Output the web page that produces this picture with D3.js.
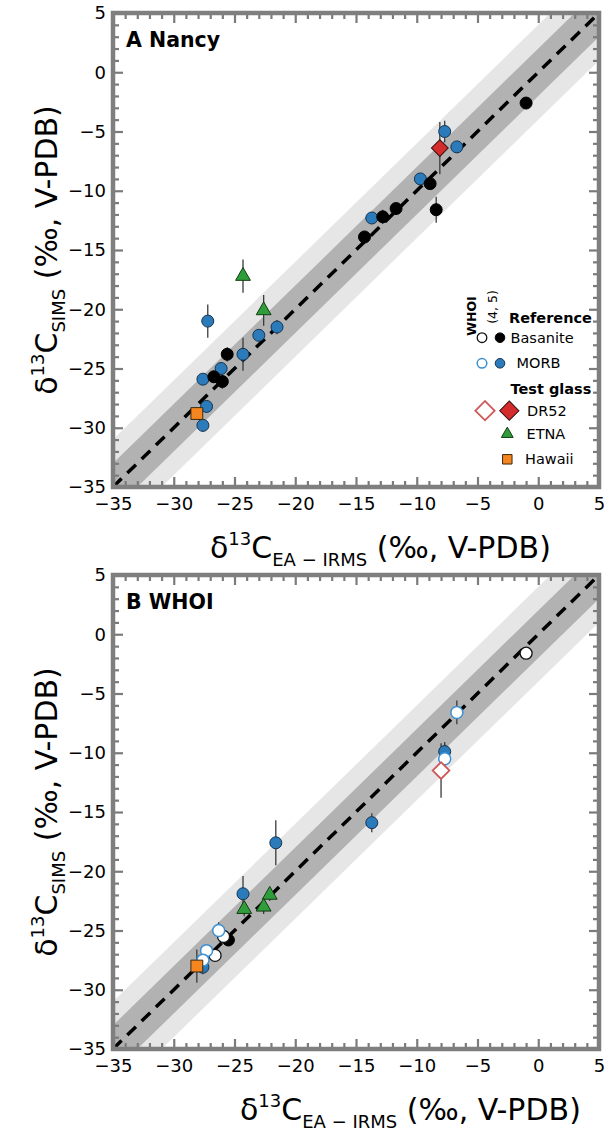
<!DOCTYPE html>
<html>
<head>
<meta charset="utf-8">
<script src="https://cdn.jsdelivr.net/npm/d3@7"></script>
<style>
body { margin: 0; background: #fff; }
svg text { font-family: "DejaVu Sans", "Liberation Sans", Arial, sans-serif; fill: #000; }
</style>
</head>
<body>
<div id="chart"></div>
<script>
var width = 608, height = 1132;
var plotW = 486, plotH = 474;

var xDomain = [-35, 5], yDomain = [-35, 5];
var majorTicks = [-35, -30, -25, -20, -15, -10, -5, 0, 5];
var tickLabels = ["−35", "−30", "−25", "−20", "−15", "−10", "−5", "0", "5"];
var minorTicks = d3.range(-35, 6).filter(function(v) { return v % 5 !== 0; });
var innerBand = 2, outerBand = 4;

// [δ13C EA-IRMS, δ13C SIMS, error]
var nancyBasanite = [[-1.0, -2.6, 0.3], [-8.9, -9.4, 0.5], [-8.4, -11.6, 1.1], [-12.8, -12.2, 0.6],
                     [-11.7, -11.5, 0.4], [-14.3, -13.9, 0.5], [-25.6, -23.8, 0.6], [-26.7, -25.7, 0.5],
                     [-26.0, -26.1, 0.6]];
var nancyMorb = [[-7.7, -5.0, 0.9], [-6.7, -6.3, 0.3], [-9.7, -9.0, 0.3], [-13.7, -12.3, 0.3],
                 [-27.2, -21.0, 1.4], [-21.5, -21.5, 0.6], [-23.0, -22.2, 0.4], [-24.3, -23.8, 1.4],
                 [-26.1, -25.0, 0.4], [-27.6, -25.9, 0.4], [-27.3, -28.2, 0.5], [-27.6, -29.8, 0.5]];
var nancyDR52 = [[-8.1, -6.4, 2.2]];
var nancyEtna = [[-24.3, -17.2, 1.4], [-22.6, -20.1, 1.3]];
var nancyHawaii = [[-28.1, -28.8, 0.5]];

var whoiMorb = [[-7.7, -9.9, 0.8], [-13.7, -15.9, 0.8], [-21.6, -17.6, 1.9], [-24.3, -21.9, 1.5],
                [-27.6, -28.1, 0.6]];
var whoiBasanite = [[-25.5, -25.8, 0.5]];
var whoiBasaniteOpen = [[-1.0, -1.6, 0.3], [-25.9, -25.5, 0.5], [-26.6, -27.1, 0.5]];
var whoiMorbOpen = [[-6.7, -6.6, 1.0], [-7.7, -10.5, 1.2], [-26.3, -25.0, 0.7], [-27.3, -26.7, 0.5],
                    [-27.6, -27.5, 0.5]];
var whoiDR52Open = [[-8.0, -11.5, 2.3]];
var whoiEtna = [[-22.1, -22.0, 0.5], [-24.2, -23.2, 0.6], [-22.6, -23.0, 0.6]];
var whoiHawaii = [[-28.1, -28.0, 1.4]];

var styles = {
    basanite:     { shape: "circle",   fill: "#000000", stroke: "#000000", sw: 1 },
    basaniteOpen: { shape: "circle",   fill: "#ffffff", stroke: "#111111", sw: 1.3 },
    morb:         { shape: "circle",   fill: "#2b7bba", stroke: "#14324f", sw: 1 },
    morbOpen:     { shape: "circle",   fill: "#ffffff", stroke: "#3b8fd2", sw: 1.5 },
    dr52:         { shape: "diamond",  fill: "#d42c2c", stroke: "#3a1010", sw: 1 },
    dr52Open:     { shape: "diamond",  fill: "#ffffff", stroke: "#d05858", sw: 1.8 },
    etna:         { shape: "triangle", fill: "#2f9e3a", stroke: "#153a15", sw: 1 },
    hawaii:       { shape: "square",   fill: "#f5861f", stroke: "#3a2a10", sw: 1 }
};

function symbolPath(shape, scale) {
    scale = scale || 1;
    if (shape == "circle") return d3.symbol(d3.symbolCircle, 113 * scale * scale)();
    if (shape == "diamond") return d3.symbol(d3.symbolSquare, 140 * scale * scale)();
    if (shape == "triangle") return d3.symbol(d3.symbolTriangle, 95 * scale * scale)();
    return d3.symbol(d3.symbolSquare, 140 * scale * scale)();
}

var svg = d3.select("#chart").append("svg")
    .attr("width", width)
    .attr("height", height);

function addAxisTitle(g, tx, ty, rotate, sub) {
    var t = g.append("text")
        .attr("transform", "translate(" + tx + "," + ty + ")" + (rotate ? " rotate(-90)" : ""))
        .attr("text-anchor", rotate ? "middle" : "start")
        .style("font-size", "30px");
    t.append("tspan").text("δ");
    t.append("tspan").attr("dy", -13).style("font-size", "18px").text("13");
    t.append("tspan").attr("dy", 13).text("C");
    t.append("tspan").attr("dy", 8).style("font-size", "18px").text(sub);
    t.append("tspan").attr("dy", -8).text(" (‰, V-PDB)");
}

function drawPanel(top, id, label, series, xTitleX) {
    var g = svg.append("g").attr("transform", "translate(113," + top + ")");

    var x = d3.scaleLinear().domain(xDomain).range([0, plotW]);
    var y = d3.scaleLinear().domain(yDomain).range([plotH, 0]);

    g.append("clipPath").attr("id", "clip" + id)
        .append("rect").attr("width", plotW).attr("height", plotH);

    var plot = g.append("g").attr("clip-path", "url(#clip" + id + ")");

    function band(d) {
        var pts = [[-60, -60 + d], [30, 30 + d], [30, 30 - d], [-60, -60 - d]];
        return "M" + pts.map(function(p) { return x(p[0]) + "," + y(p[1]); }).join("L") + "Z";
    }
    plot.append("path").attr("d", band(outerBand)).attr("fill", "#e6e6e6");
    plot.append("path").attr("d", band(innerBand)).attr("fill", "#b2b2b2");

    var line = d3.line().x(function(d) { return x(d); }).y(function(d) { return y(d); });
    plot.append("path")
        .attr("d", line(xDomain))
        .attr("stroke", "#000")
        .attr("stroke-width", 3.5)
        .attr("stroke-dasharray", "12,8")
        .attr("fill", "none");

    // error bars first
    series.forEach(function(s) {
        plot.selectAll(null)
            .data(s.data)
            .enter().append("line")
            .attr("x1", function(d) { return x(d[0]); })
            .attr("x2", function(d) { return x(d[0]); })
            .attr("y1", function(d) { return y(d[1] - d[2]); })
            .attr("y2", function(d) { return y(d[1] + d[2]); })
            .attr("stroke", "#3a3a3a")
            .attr("stroke-width", 1.3);
    });

    series.forEach(function(s) {
        var st = styles[s.style];
        plot.selectAll(null)
            .data(s.data)
            .enter().append("path")
            .attr("d", symbolPath(st.shape))
            .attr("transform", function(d) {
                return "translate(" + x(d[0]) + "," + y(d[1]) + ")" + (st.shape == "diamond" ? " rotate(45)" : "");
            })
            .attr("fill", st.fill)
            .attr("stroke", st.stroke)
            .attr("stroke-width", st.sw);
    });

    // ticks on all four sides, pointing inward
    var sides = [
        { make: d3.axisBottom, scale: x, tr: "translate(0," + plotH + ")", labels: true, pad: 10 },
        { make: d3.axisTop, scale: x, tr: "translate(0,0)", labels: false, pad: 10 },
        { make: d3.axisLeft, scale: y, tr: "translate(0,0)", labels: true, pad: 7 },
        { make: d3.axisRight, scale: y, tr: "translate(" + plotW + ",0)", labels: false, pad: 7 }
    ];
    sides.forEach(function(sd) {
        g.append("g").attr("transform", sd.tr)
            .call(sd.make(sd.scale).tickValues(minorTicks).tickSize(-6).tickFormat(""))
            .call(function(a) { a.select(".domain").remove(); })
            .selectAll("line").attr("stroke", "#7b7b7b").attr("stroke-width", 2.2);

        var major = g.append("g").attr("transform", sd.tr)
            .call(sd.make(sd.scale).tickValues(majorTicks).tickSize(-10)
                .tickPadding(sd.pad)
                .tickFormat(function(d, i) { return sd.labels ? tickLabels[i] : ""; }))
            .call(function(a) { a.select(".domain").remove(); });
        major.selectAll("line").attr("stroke", "#7b7b7b").attr("stroke-width", 2.2);
        major.selectAll("text").attr("fill", "#000").style("font-size", "18px")
            .style("font-family", "'DejaVu Sans', sans-serif");
        major.attr("font-family", null).attr("font-size", null);
    });

    g.append("rect")
        .attr("width", plotW).attr("height", plotH)
        .attr("fill", "none")
        .attr("stroke", "#7f7f7f")
        .attr("stroke-width", 4.5);

    g.append("text")
        .attr("x", 13).attr("y", 34)
        .style("font-size", "20.5px").style("font-weight", "bold")
        .text(label);

    addAxisTitle(g, xTitleX, plotH + 71, false, "EA − IRMS");
    addAxisTitle(g, -56, plotH / 2, true, "SIMS");

    return g;
}

var gA = drawPanel(13, "A", "A Nancy", [
    { style: "morb", data: nancyMorb },
    { style: "basanite", data: nancyBasanite },
    { style: "dr52", data: nancyDR52 },
    { style: "etna", data: nancyEtna },
    { style: "hawaii", data: nancyHawaii }
], 97);

drawPanel(575, "B", "B WHOI", [
    { style: "morb", data: whoiMorb },
    { style: "basanite", data: whoiBasanite },
    { style: "basaniteOpen", data: whoiBasaniteOpen },
    { style: "morbOpen", data: whoiMorbOpen },
    { style: "dr52Open", data: whoiDR52Open },
    { style: "etna", data: whoiEtna },
    { style: "hawaii", data: whoiHawaii }
], 127);

// legend (panel A)
var legend = gA.append("g").attr("class", "legend");
legend.append("text").attr("transform", "translate(362.5,303) rotate(-90)")
    .attr("text-anchor", "middle").style("font-size", "12.5px").style("font-weight", "bold").text("WHOI");
legend.append("text").attr("transform", "translate(384,294) rotate(-90)")
    .attr("text-anchor", "middle").style("font-size", "12.5px").text("(4, 5)");

var legendRows = [
    { text: "Reference", bold: true, tx: 396, ty: 310 },
    { text: "Basanite", tx: 397.5, ty: 329.5, open: "basaniteOpen", filled: "basanite", ox: 369, fx: 387, sy: 324.7 },
    { text: "MORB", tx: 403.5, ty: 355, open: "morbOpen", filled: "morb", ox: 369, fx: 387, sy: 350.3 },
    { text: "Test glass", bold: true, tx: 397.5, ty: 381 },
    { text: "DR52", tx: 414, ty: 402.5, open: "dr52Open", filled: "dr52", ox: 372, fx: 396.3, sy: 397.7 },
    { text: "ETNA", tx: 413.5, ty: 426, filled: "etna", fx: 394.3, sy: 421 },
    { text: "Hawaii", tx: 412, ty: 451.3, filled: "hawaii", fx: 394.3, sy: 446.3 }
];
legendRows.forEach(function(r) {
    legend.append("text").attr("x", r.tx).attr("y", r.ty)
        .style("font-size", "14.5px").style("font-weight", r.bold ? "bold" : "normal").text(r.text);
    [[r.open, r.ox], [r.filled, r.fx]].forEach(function(p) {
        if (!p[0]) return;
        var st = styles[p[0]];
        var sc = st.shape == "circle" ? 0.8 : (st.shape == "diamond" ? 1.15 : 0.8);
        legend.append("path")
            .attr("d", symbolPath(st.shape, sc))
            .attr("transform", "translate(" + p[1] + "," + r.sy + ")" + (st.shape == "diamond" ? " rotate(45)" : ""))
            .attr("fill", st.fill).attr("stroke", st.stroke).attr("stroke-width", st.sw);
    });
});
</script>
</body>
</html>
